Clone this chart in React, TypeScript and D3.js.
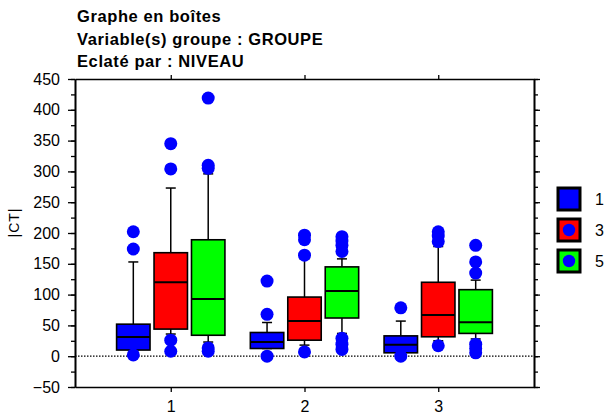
import React, { useEffect, useRef } from 'react'
import * as d3 from 'd3'

const groupes = [1, 2, 3]
const niveaux = ['1', '3', '5']
const couleurs = ['#0000ff', '#ff0000', '#00ff00']

// one row per niveau, one value per groupe
const q1 = [[10, 12.5, 5.5], [44, 26, 31.5], [34, 62, 37]]
const mediane = [[31, 23, 18.5], [120, 57, 67], [93, 106, 55]]
const q3 = [[52, 38.5, 33], [168, 96, 120], [189, 145, 108]]
const moustacheBas = [[10, 12.5, 5.5], [36, 18, 25], [23, 37, 28]]
const moustacheHaut = [[153, 54.7, 57], [273, 158, 178], [296, 158, 123.5]]
const extremes = [
    [[202, 174, 2], [122, 68, 0], [78.5, 0]],
    [[345, 304, 26, 8], [196.5, 189, 164, 7], [202, 195, 186, 17]],
    [[419, 310, 305, 13.5, 8], [194, 187, 180, 170, 29, 19.5, 11], [180, 153, 135, 19.5, 12.5, 5.5]],
]

const yMajor = d3.range(-50, 451, 50)
const yMinor = d3.range(-50, 451, 25)

const W = 607
const H = 416
const left = 75
const right = 534
const top = 79
const bottom = 387
const FONT = '"Liberation Sans", Arial, sans-serif'

export default function App() {
    const axesRef = useRef<SVGGElement>(null)

    const x = d3.scaleLinear().domain([0.284, 3.716]).range([left, right])
    const y = d3.scaleLinear().domain([-50, 450]).range([bottom, top])
    const offset = 0.28
    const boxW = x(0.25) - x(0)

    useEffect(() => {
        const g = d3.select(axesRef.current)
        g.selectAll('*').remove()
        const style = (sel: any) => {
            sel.selectAll('path').attr('stroke', '#000').attr('stroke-width', 1.6)
            sel.selectAll('line').attr('stroke', '#000').attr('stroke-width', 1.3)
            sel.selectAll('text').attr('font-family', FONT).attr('font-size', 16).attr('fill', '#000')
        }
        g.append('g').attr('transform', `translate(${left},0)`)
            .call(d3.axisLeft(y).tickValues(yMinor).tickSize(4).tickSizeOuter(0).tickFormat(() => ''))
            .call(style)
        g.append('g').attr('transform', `translate(${left},0)`)
            .call(d3.axisLeft(y).tickValues(yMajor).tickSize(7).tickSizeOuter(0).tickPadding(8))
            .call(style)
        g.append('g').attr('transform', `translate(${right},0)`)
            .call(d3.axisRight(y).tickValues(yMinor).tickSize(4).tickSizeOuter(0).tickFormat(() => ''))
            .call(style)
        g.append('g').attr('transform', `translate(${right},0)`)
            .call(d3.axisRight(y).tickValues(yMajor).tickSize(6).tickSizeOuter(0).tickFormat(() => ''))
            .call(style)
        g.append('g').attr('transform', `translate(0,${top})`)
            .call(d3.axisTop(x).tickValues(groupes).tickSize(4).tickSizeOuter(0).tickFormat(() => ''))
            .call(style)
        g.append('g').attr('transform', `translate(0,${bottom})`)
            .call(d3.axisBottom(x).tickValues(groupes).tickSize(5).tickSizeOuter(0).tickPadding(9).tickFormat(d3.format('d')))
            .call(style)
    }, [])

    return (
        <svg width={W} height={H} style={{ position: 'absolute', left: 0, top: 0, background: '#fff' }}>
            <g fontFamily={FONT} fontWeight="bold" fontSize={16.5} letterSpacing={0.6} fill="#000">
                <text x={77} y={22}>Graphe en boîtes</text>
                <text x={77} y={45}>Variable(s) groupe : GROUPE</text>
                <text x={77} y={67}>Eclaté par : NIVEAU</text>
            </g>
            <text transform={`translate(19,${222.5}) rotate(-90)`} textAnchor="middle"
                fontFamily={FONT} fontSize={14} letterSpacing={1}>|CT|</text>

            <line x1={left} x2={right} y1={y(0)} y2={y(0)} stroke="#000" strokeWidth={1.2} strokeDasharray="1.5,1.5" />

            {niveaux.map((n, s) => (
                <g key={n}>
                    {groupes.map((gr, i) => {
                        const cx = x(gr + (s - 1) * offset)
                        return (
                            <g key={gr}>
                                <line x1={cx} x2={cx} y1={y(moustacheHaut[s][i])} y2={y(q3[s][i])} stroke="#000" strokeWidth={1.5} />
                                <line x1={cx} x2={cx} y1={y(moustacheBas[s][i])} y2={y(q1[s][i])} stroke="#000" strokeWidth={1.5} />
                                <line x1={cx - 5} x2={cx + 5} y1={y(moustacheHaut[s][i])} y2={y(moustacheHaut[s][i])} stroke="#000" strokeWidth={1.5} />
                                <line x1={cx - 5} x2={cx + 5} y1={y(moustacheBas[s][i])} y2={y(moustacheBas[s][i])} stroke="#000" strokeWidth={1.5} />
                                <rect x={cx - boxW / 2} width={boxW} y={y(q3[s][i])} height={y(q1[s][i]) - y(q3[s][i])}
                                    fill={couleurs[s]} stroke="#000" strokeWidth={1.6} />
                                <line x1={cx - boxW / 2} x2={cx + boxW / 2} y1={y(mediane[s][i])} y2={y(mediane[s][i])} stroke="#000" strokeWidth={2} />
                                {extremes[s][i].map((v, k) => (
                                    <circle key={k} cx={cx} cy={y(v)} r={6.5} fill="#0000ff" />
                                ))}
                            </g>
                        )
                    })}
                </g>
            ))}

            <g ref={axesRef} />

            {niveaux.map((n, s) => {
                const ly = 188 + s * 31
                return (
                    <g key={n}>
                        <rect x={558} y={ly} width={22} height={22} fill={couleurs[s]} stroke="#000" strokeWidth={3} />
                        {s > 0 && <circle cx={569} cy={ly + 11} r={6.2} fill="#0000ff" />}
                        <text x={595} y={ly + 11} dominantBaseline="central" fontFamily={FONT} fontSize={16}>{n}</text>
                    </g>
                )
            })}
        </svg>
    )
}
